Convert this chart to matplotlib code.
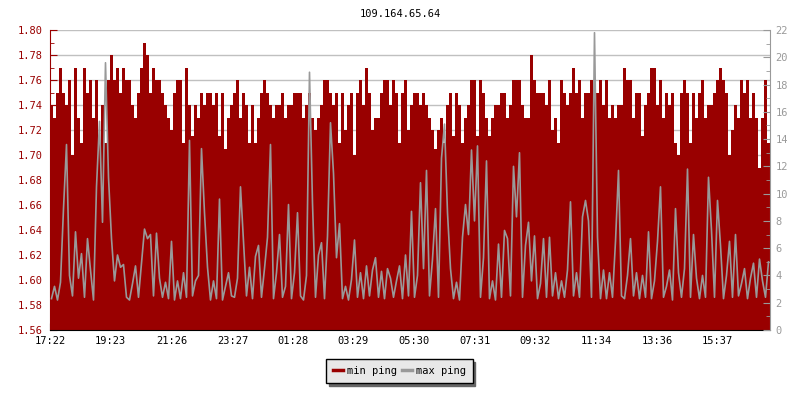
import numpy as np
import matplotlib.pyplot as plt
from matplotlib.lines import Line2D
from matplotlib.ticker import MultipleLocator

plt.rcParams['font.family'] = 'DejaVu Sans Mono'

RED = '#990000'
GRAY = '#999999'

# one sample every 6 minutes, starting 17:22
STEP_MIN = 6
START = 17 * 60 + 22

# min ping (left axis)
min_ping = [
    1.74, 1.73, 1.75, 1.77, 1.75, 1.74, 1.76, 1.70, 1.77, 1.73, 1.71, 1.77, 1.75, 1.76, 1.73, 1.76, 1.71, 1.74, 1.71, 1.76,
    1.78, 1.76, 1.77, 1.75, 1.77, 1.76, 1.76, 1.74, 1.73, 1.75, 1.77, 1.79, 1.78, 1.75, 1.77, 1.76, 1.76, 1.75, 1.74, 1.73,
    1.72, 1.75, 1.76, 1.76, 1.71, 1.77, 1.74, 1.715, 1.74, 1.73, 1.75, 1.74, 1.75, 1.75, 1.74, 1.75, 1.715, 1.75, 1.705, 1.73,
    1.74, 1.75, 1.76, 1.73, 1.75, 1.74, 1.71, 1.74, 1.71, 1.73, 1.75, 1.76, 1.75, 1.74, 1.73, 1.74, 1.74, 1.75, 1.73, 1.74,
    1.74, 1.75, 1.75, 1.75, 1.73, 1.74, 1.75, 1.73, 1.72, 1.73, 1.74, 1.76, 1.76, 1.75, 1.74, 1.75, 1.71, 1.75, 1.72, 1.74,
    1.75, 1.70, 1.75, 1.76, 1.74, 1.77, 1.75, 1.72, 1.73, 1.73, 1.75, 1.76, 1.76, 1.74, 1.76, 1.75, 1.71, 1.75, 1.76, 1.72,
    1.74, 1.75, 1.75, 1.74, 1.75, 1.74, 1.73, 1.72, 1.705, 1.72, 1.73, 1.71, 1.74, 1.75, 1.715, 1.75, 1.74, 1.71, 1.73, 1.74,
    1.76, 1.76, 1.715, 1.76, 1.75, 1.73, 1.715, 1.73, 1.74, 1.74, 1.75, 1.75, 1.73, 1.74, 1.76, 1.76, 1.76, 1.74, 1.73, 1.73,
    1.78, 1.76, 1.75, 1.75, 1.75, 1.74, 1.76, 1.72, 1.73, 1.71, 1.76, 1.75, 1.74, 1.75, 1.77, 1.75, 1.76, 1.73, 1.75, 1.75,
    1.76, 1.75, 1.75, 1.76, 1.74, 1.76, 1.73, 1.74, 1.73, 1.74, 1.74, 1.77, 1.76, 1.76, 1.73, 1.75, 1.75, 1.715, 1.74, 1.75,
    1.77, 1.77, 1.74, 1.76, 1.73, 1.75, 1.74, 1.75, 1.71, 1.70, 1.75, 1.76, 1.75, 1.71, 1.75, 1.73, 1.75, 1.76, 1.73, 1.74,
    1.74, 1.75, 1.76, 1.77, 1.76, 1.75, 1.70, 1.72, 1.74, 1.73, 1.76, 1.75, 1.76, 1.73, 1.75, 1.73, 1.69, 1.73, 1.76, 1.71,
]

# max ping (right axis)
max_ping = [
    2.3, 3.2, 2.2, 3.5, 8.9, 13.6, 4.0, 2.5, 7.2, 3.8, 5.6, 2.4, 6.7, 4.4, 2.2, 10.5, 15.3, 7.9, 19.6, 11.2,
    6.7, 3.6, 5.5, 4.6, 4.8, 2.4, 2.2, 3.4, 4.7, 2.4, 4.9, 7.4, 6.7, 7.0, 2.5, 7.1, 3.8, 2.4, 3.5, 2.3,
    6.5, 2.2, 3.6, 2.3, 4.2, 2.4, 13.9, 2.5, 3.6, 4.0, 13.3, 8.6, 4.6, 2.2, 3.6, 2.3, 9.6, 2.2, 3.2, 4.2,
    2.5, 2.4, 3.8, 10.5, 6.5, 2.5, 4.6, 2.3, 5.4, 6.2, 2.4, 4.5, 6.8, 13.6, 2.3, 4.2, 7.0, 2.4, 3.2, 9.2,
    2.3, 4.2, 8.6, 2.5, 2.2, 4.0, 18.9, 9.3, 2.4, 5.5, 6.4, 2.3, 6.9, 15.2, 11.5, 5.3, 7.8, 2.3, 3.2, 2.2,
    3.7, 6.6, 2.4, 4.2, 2.3, 4.7, 2.5, 4.4, 5.3, 2.4, 4.3, 2.3, 4.5, 3.8, 2.4, 3.6, 4.7, 2.3, 5.5, 2.5,
    8.7, 2.4, 4.0, 10.8, 4.5, 11.7, 2.5, 5.2, 8.9, 2.4, 12.6, 15.1, 8.6, 4.5, 2.3, 3.5, 2.2, 6.8, 9.2, 7.0,
    13.2, 8.0, 13.5, 2.4, 5.3, 12.4, 2.3, 3.6, 2.2, 6.3, 2.4, 7.3, 6.7, 2.5, 12.0, 8.3, 13.0, 2.4, 6.2, 7.9,
    3.6, 6.9, 2.3, 3.4, 6.7, 2.4, 6.8, 2.5, 4.2, 2.3, 3.6, 2.4, 4.4, 9.4, 2.5, 4.2, 2.4, 8.3, 9.5, 8.0,
    2.4, 21.8, 6.8, 2.3, 4.4, 2.3, 4.2, 2.4, 6.5, 11.7, 2.5, 2.3, 4.0, 6.7, 2.5, 4.2, 2.3, 4.0, 2.4, 7.2,
    2.3, 3.6, 6.5, 10.5, 2.4, 3.2, 4.4, 2.2, 8.9, 4.2, 2.4, 4.5, 11.8, 2.4, 7.0, 3.8, 2.3, 4.0, 2.4, 11.2,
    7.3, 2.4, 9.5, 6.2, 2.3, 4.0, 6.5, 2.4, 7.0, 2.5, 3.4, 4.5, 2.3, 3.8, 4.9, 2.4, 5.2, 3.6, 2.4, 5.0,
]

time_labels = ['17:22', '19:23', '21:26', '23:27', '01:28', '03:29',
               '05:30', '07:31', '09:32', '11:34', '13:36', '15:37']


def minutes_since_start(label):
    h, m = map(int, label.split(':'))
    return (h * 60 + m - START) % 1440


edges = np.arange(len(min_ping) + 1) * STEP_MIN
centers = edges[:-1] + STEP_MIN / 2
tick_pos = [minutes_since_start(t) for t in time_labels]

fig = plt.figure(figsize=(8, 4), dpi=100)
ax = fig.add_axes([0.0625, 0.175, 0.9, 0.75])
ax2 = ax.twinx()

# red area for min ping
ax.stairs(min_ping, edges, baseline=0, fill=True, color=RED, zorder=2)
ax.set_xlim(0, edges[-1])
ax.set_ylim(1.56, 1.80)
ax.yaxis.set_major_locator(MultipleLocator(0.02))
ax.yaxis.set_minor_locator(MultipleLocator(0.01))
ax.yaxis.set_major_formatter(lambda v, p: f"{v:.2f}")
ax.grid(axis='y', which='major', color='#c0c0c0', linewidth=1)
ax.set_axisbelow(True)
ax.set_xticks(tick_pos)
ax.set_xticklabels(time_labels)

# gray line for max ping
ax2.plot(centers, max_ping, color=GRAY, linewidth=1.2)
ax2.set_ylim(0, 22)
ax2.yaxis.set_major_locator(MultipleLocator(2))
ax2.yaxis.set_minor_locator(MultipleLocator(1))

# axes styling
ax.tick_params(axis='y', which='major', direction='in', length=5, color=RED,
               labelcolor=RED, labelsize=7.5, pad=5)
ax.tick_params(axis='y', which='minor', direction='in', length=3, color=RED)
ax.tick_params(axis='x', direction='in', length=5, color='black',
               labelsize=7.5, pad=4)
ax2.tick_params(axis='y', which='major', direction='in', length=5, color=GRAY,
                labelcolor=GRAY, labelsize=7.5, pad=4)
ax2.tick_params(axis='y', which='minor', direction='in', length=3, color=GRAY)

ax.spines['left'].set_color(RED)
ax.spines['bottom'].set_color('black')
ax.spines['top'].set_visible(False)
ax.spines['right'].set_visible(False)
for s in ['left', 'top', 'bottom']:
    ax2.spines[s].set_visible(False)
ax2.spines['right'].set_color(GRAY)

fig.text(0.5, 1 - 14 / 400, '109.164.65.64', ha='center', va='center', fontsize=7.5)

handles = [Line2D([], [], color=RED, lw=2.5), Line2D([], [], color=GRAY, lw=2.5)]
leg = fig.legend(handles, ['min ping', 'max ping'], loc='center',
                 bbox_to_anchor=(0.499, 0.0725), ncol=2, fancybox=False,
                 edgecolor='black', facecolor='#e8e8e8', framealpha=1,
                 shadow={'color': '#666666', 'alpha': 1},
                 handlelength=1.0, handletextpad=0.35, columnspacing=0.5,
                 borderpad=0.65, fontsize=7.5)
leg.get_frame().set_linewidth(1.0)

fig.savefig('out.png', dpi=100)
